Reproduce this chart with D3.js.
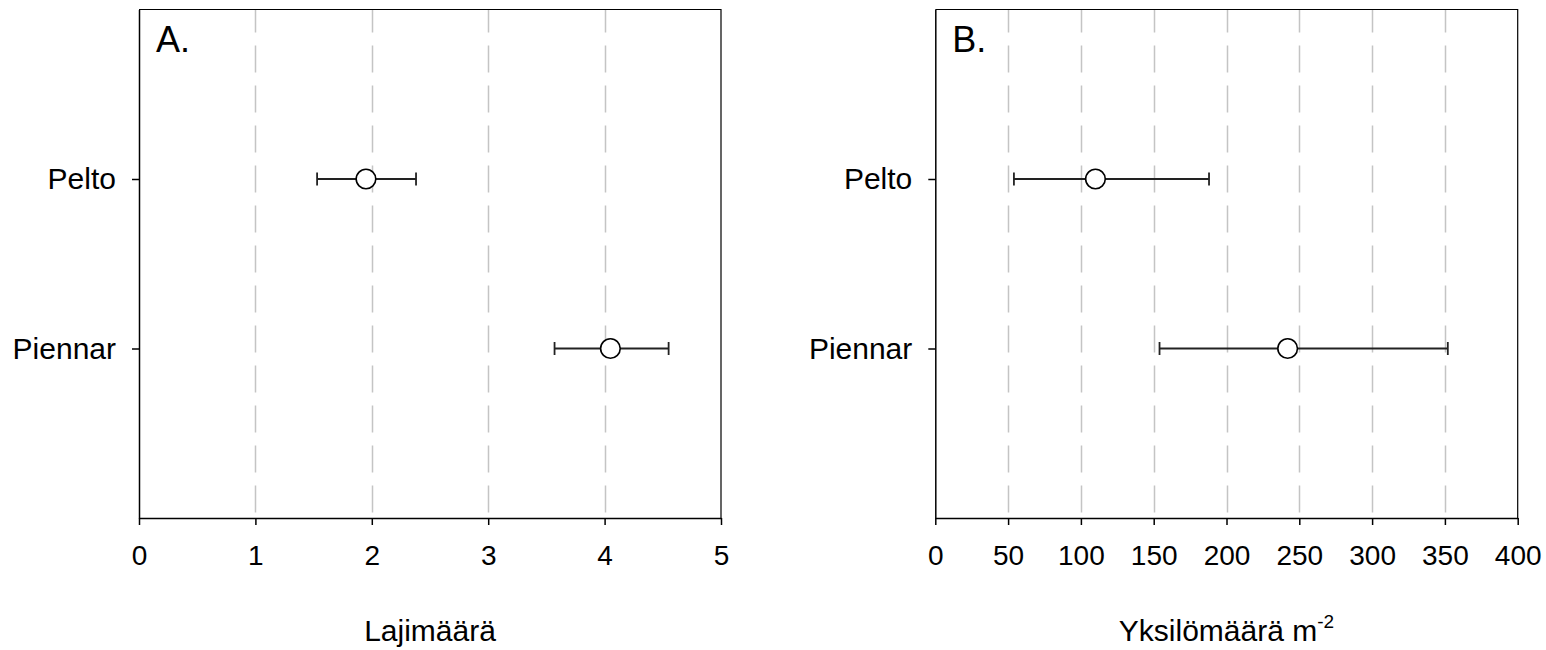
<!DOCTYPE html>
<html>
<head>
<meta charset="utf-8">
<script src="https://cdn.jsdelivr.net/npm/d3@7"></script>
<style>
  html, body { margin: 0; padding: 0; background: #fff; }
  svg { display: block; font-family: "Liberation Sans", Arial, sans-serif; }
</style>
</head>
<body>
<svg id="chart" width="1546" height="650"></svg>
<script>
// Habitat categories (rows)
const categories = ["Pelto", "Piennar"];

// Panel A: species richness, mean with interval
const speciesMean = [1.95, 4.05];
const speciesLow  = [1.53, 3.57];
const speciesHigh = [2.38, 4.55];
const speciesTicks = [0, 1, 2, 3, 4, 5];

// Panel B: individuals per m², mean with interval
const densityMean = [110, 242];
const densityLow  = [54, 154];
const densityHigh = [188, 352];
const densityTicks = [0, 50, 100, 150, 200, 250, 300, 350, 400];

const svg = d3.select("#chart");
const plotTop = 9.5, plotBottom = 518;

function drawPanel(opts) {
  const { left, right, domain, ticks, mean, low, high, letter, title, superscript } = opts;
  const g = svg.append("g");

  const x = d3.scaleLinear().domain(domain).range([left, right]);
  const y = d3.scalePoint().domain(categories).range([plotTop, plotBottom]).padding(1);

  // dashed vertical gridlines at the interior ticks
  g.append("g").selectAll("line")
    .data(ticks.filter(t => t > domain[0] && t < domain[1]))
    .join("line")
    .attr("x1", d => Math.round(x(d)) + 0.5)
    .attr("x2", d => Math.round(x(d)) + 0.5)
    .attr("y1", plotTop).attr("y2", plotBottom)
    .attr("stroke", "#c4c4c4")
    .attr("stroke-width", 1.5)
    .attr("stroke-dasharray", "27,13")
    .attr("stroke-dashoffset", 4);

  // frame: top and right edges
  g.append("path")
    .attr("d", `M${x.range()[0]},${plotTop}H${x.range()[1]}V${plotBottom}`)
    .attr("fill", "none")
    .attr("stroke", "#000")
    .attr("stroke-width", 1.2);

  // bottom axis
  const xAxis = d3.axisBottom(x).tickValues(ticks).tickSizeInner(7).tickSizeOuter(0)
    .tickPadding(20).tickFormat(d3.format("d"));
  const gx = g.append("g").attr("transform", `translate(0,${plotBottom})`).call(xAxis);
  gx.select(".domain").attr("stroke", "#000").attr("stroke-width", 1.5);
  gx.selectAll(".tick line").attr("stroke", "#000").attr("stroke-width", 1.5);
  gx.selectAll(".tick text").attr("font-size", 28).attr("fill", "#000")
    .attr("font-family", "'Liberation Sans', Arial, sans-serif");

  // left axis
  const yAxis = d3.axisLeft(y).tickSizeInner(7).tickSizeOuter(0).tickPadding(16);
  const gy = g.append("g").attr("transform", `translate(${left},0)`).call(yAxis);
  gy.select(".domain").attr("stroke", "#000").attr("stroke-width", 1.5);
  gy.selectAll(".tick line").attr("stroke", "#000").attr("stroke-width", 1.5);
  gy.selectAll(".tick text").attr("font-size", 30).attr("fill", "#000")
    .attr("font-family", "'Liberation Sans', Arial, sans-serif");

  // error bars
  const rows = categories.map((c, i) => ({ c, m: mean[i], lo: low[i], hi: high[i] }));
  const eb = g.append("g").attr("stroke", "#222").attr("stroke-width", 1.8);
  eb.selectAll("line.span").data(rows).join("line").attr("class", "span")
    .attr("x1", d => x(d.lo)).attr("x2", d => x(d.hi))
    .attr("y1", d => y(d.c)).attr("y2", d => y(d.c));
  eb.selectAll("line.capl").data(rows).join("line").attr("class", "capl")
    .attr("x1", d => x(d.lo)).attr("x2", d => x(d.lo))
    .attr("y1", d => y(d.c) - 6.5).attr("y2", d => y(d.c) + 6.5);
  eb.selectAll("line.caph").data(rows).join("line").attr("class", "caph")
    .attr("x1", d => x(d.hi)).attr("x2", d => x(d.hi))
    .attr("y1", d => y(d.c) - 6.5).attr("y2", d => y(d.c) + 6.5);

  // mean markers
  g.append("g").selectAll("circle").data(rows).join("circle")
    .attr("cx", d => x(d.m)).attr("cy", d => y(d.c)).attr("r", 9.8)
    .attr("fill", "#fff").attr("stroke", "#000").attr("stroke-width", 1.6);

  // panel letter
  g.append("text").attr("x", left + 17).attr("y", 52)
    .attr("font-size", 36).attr("fill", "#000").text(letter);

  // axis title
  const t = g.append("text").attr("x", (left + right) / 2).attr("y", 641)
    .attr("text-anchor", "middle").attr("font-size", 30).attr("fill", "#000");
  t.append("tspan").text(title);
  if (superscript) {
    t.append("tspan").attr("font-size", 19).attr("dy", -13).text(superscript);
  }
}

drawPanel({
  left: 139, right: 721, domain: [0, 5], ticks: speciesTicks,
  mean: speciesMean, low: speciesLow, high: speciesHigh,
  letter: "A.", title: "Lajimäärä"
});

drawPanel({
  left: 935.3, right: 1517.7, domain: [0, 400], ticks: densityTicks,
  mean: densityMean, low: densityLow, high: densityHigh,
  letter: "B.", title: "Yksilömäärä m", superscript: "-2"
});
</script>
</body>
</html>
